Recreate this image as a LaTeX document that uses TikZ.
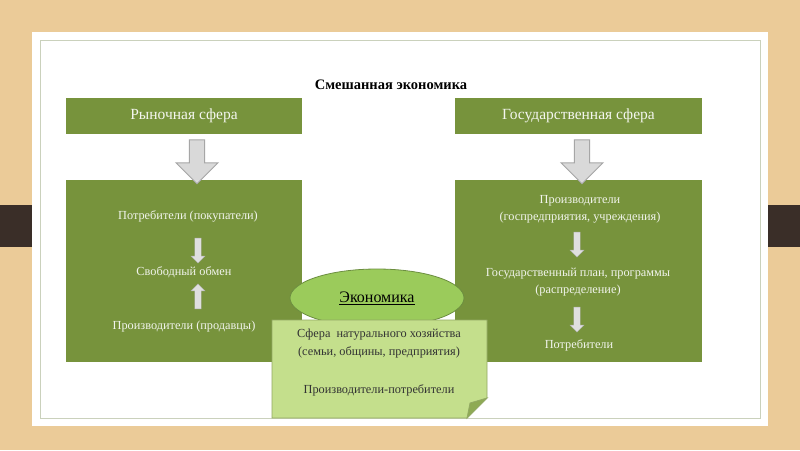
\documentclass[tikz,border=0pt]{standalone}
\usepackage{fontspec}
\setmainfont{Liberation Serif}
\usetikzlibrary{positioning,shapes.geometric,shapes.arrows}
\definecolor{olivebox}{HTML}{77933C}
\definecolor{woodbg}{HTML}{EBCB98}
\definecolor{barbrown}{HTML}{3A2E28}
\definecolor{ovalgreen}{HTML}{9BCB5B}
\definecolor{notegreen}{HTML}{C4DF8C}

\tikzset{
  header/.style={fill=olivebox, text=white!92!olivebox, minimum width=236pt, minimum height=36pt, font=\fontsize{15.5}{17}\selectfont},
  bigbox/.style={fill=olivebox, minimum width=236pt, minimum height=182pt},
  intext/.style={text=white!90!olivebox, font=\fontsize{12.3}{17}\selectfont, align=center},
  bigarrow/.style={single arrow, shape border rotate=270, fill=gray!30, draw=gray!70, line width=1pt, minimum width=42pt, single arrow head extend=8pt, single arrow tip angle=90, minimum height=44pt, inner sep=4pt},
  smallarrow/.style={single arrow, fill=gray!25, draw=gray!60, minimum width=14pt, single arrow head extend=2pt, minimum height=25pt, inner sep=1.5pt}
}

\begin{document}
\begin{tikzpicture}[x=1pt,y=-1pt]
  \useasboundingbox (0,0) rectangle (800,450);
  \fill[woodbg] (0,0) rectangle (800,450);
  % brown bars
  \fill[barbrown] (0,205) rectangle (50,247);
  \fill[barbrown] (750,205) rectangle (800,247);
  % slide
  \fill[white] (32,32) rectangle (768,426);
  \draw[gray!40!olivebox!40, line width=1pt] (40,40) rectangle (760,418);

  \node[font=\bfseries\fontsize{14.5}{16}\selectfont] (title) at (391,85) {Смешанная экономика};

  \node[header] (market) at (184,116) {Рыночная сфера};
  \node[header, minimum width=247pt] (state) at (578.5,116) {Государственная сфера};

  \node[bigbox] (mbox) at (184,271) {};
  \node[bigbox, minimum width=247pt] (sbox) at (578.5,271) {};

  \node[bigarrow] (marr) at (197,158) {};
  \node[bigarrow] (sarr) at (582,158) {};

  % market sphere
  \node[intext] (buyers) at (188,216) {Потребители (покупатели)};
  \node[intext] (exchange) at (184,272) {Свободный обмен};
  \node[intext] (sellers) at (184,327) {Производители (продавцы)};
  \node[smallarrow, shape border rotate=270] (marr1) at (198,249) {};
  \node[smallarrow, shape border rotate=90] (marr2) at (198,298) {};

  % state sphere
  \node[intext] (producers) at (580,209) {Производители\\(госпредприятия, учреждения)};
  \node[intext] (plan) at (578,282) {Государственный план, программы\\(распределение)};
  \node[intext] (consumers) at (579,345) {Потребители};
  \node[smallarrow, shape border rotate=270] (sarr1) at (577,243) {};
  \node[smallarrow, shape border rotate=270] (sarr2) at (577,318) {};

  % economy
  \node[ellipse, fill=ovalgreen, draw=ovalgreen!70!black, line width=0.8pt, minimum width=174pt, minimum height=58pt, font=\fontsize{16}{17}\selectfont] (econ) at (377,298) {\underline{Экономика}};

  \fill[notegreen, draw=olivebox!80, line width=0.8pt] (272,320) -- (487,320) -- (487,398) -- (467,418) -- (272,418) -- cycle;
  \fill[olivebox!70!notegreen, draw=olivebox!80, line width=0.8pt] (487,398) -- (470,403) -- (467,418) -- cycle;
  \node[font=\fontsize{12.3}{18}\selectfont, align=center, text=black!80] (natural) at (379,344) {Сфера\ \ натурального хозяйства\\(семьи, общины, предприятия)};
  \node[font=\fontsize{12.3}{15}\selectfont, text=black!80] (prodcons) at (379,390) {Производители-потребители};
\end{tikzpicture}
\end{document}
